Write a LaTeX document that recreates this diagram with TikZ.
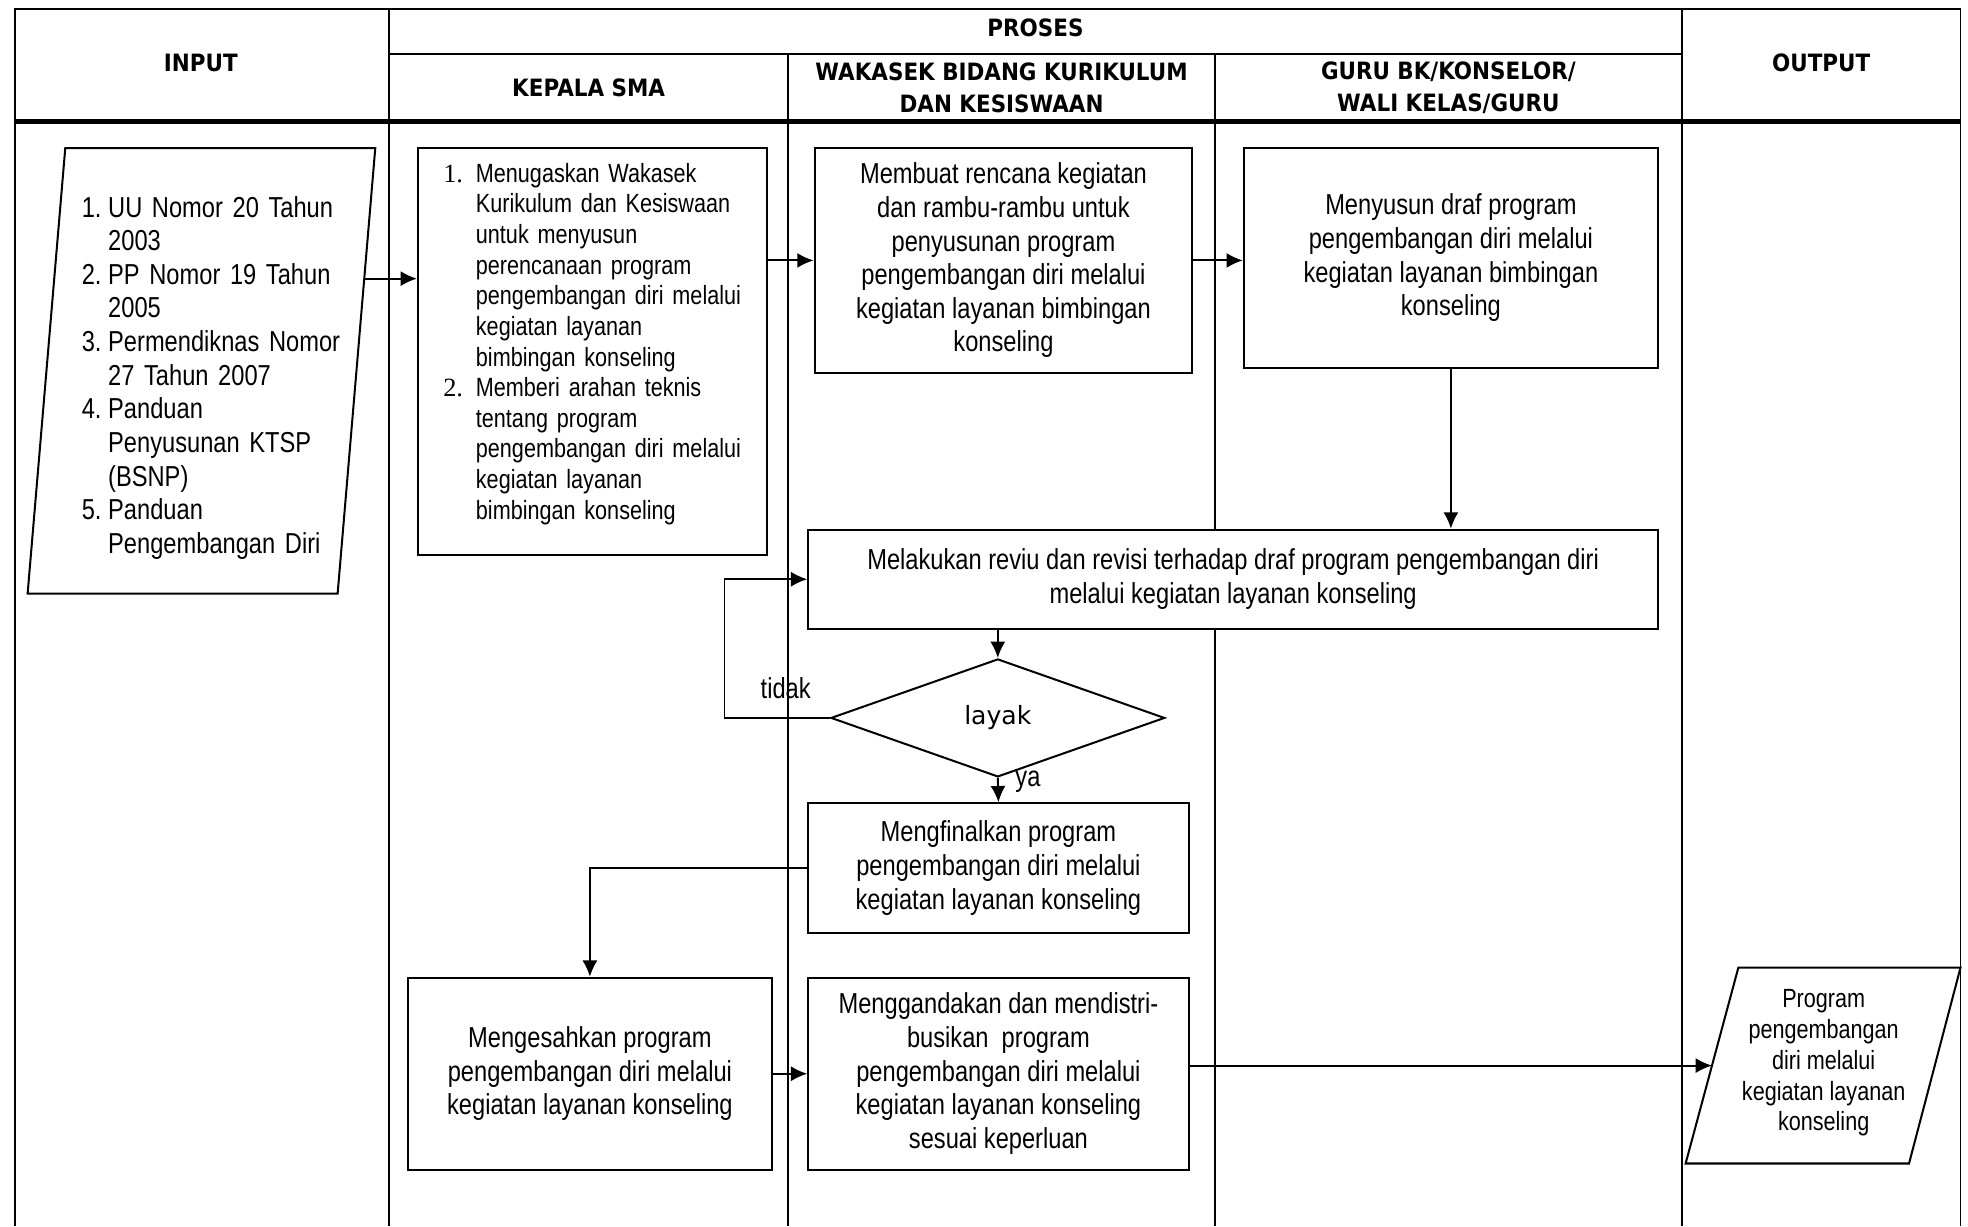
\documentclass[tikz,border=0pt]{standalone}
\usepackage{fontspec}
\setmainfont[FakeStretch=0.82]{Liberation Sans}
\newfontfamily\hdrfont[FakeStretch=0.9]{DejaVu Sans}
\newfontfamily\dvfont{DejaVu Sans}
\newfontfamily\srffont{Liberation Serif}
\usetikzlibrary{shapes.geometric,arrows.meta}
\begin{document}
\begin{tikzpicture}[x=1pt,y=-1pt,
  tbl/.style={line width=1.2pt},
  box/.style={draw,line width=1.6pt,fill=white,align=center,inner sep=0pt,font=\fontsize{23}{26.8}\selectfont},
  arr/.style={line width=1.5pt,-{Latex[length=13pt,width=12pt]}},
  hdr/.style={font=\hdrfont\bfseries\fontsize{19}{26}\selectfont,align=center,inner sep=0pt},
  txt/.style={font=\fontsize{23}{26.8}\selectfont,inner sep=0pt},
  smalltxt/.style={font=\fontsize{21}{24.4}\selectfont,inner sep=0pt}]
\useasboundingbox (0,0) rectangle (1568,977);
% table
\draw[tbl] (12,977) -- (12,7) -- (1562,7) -- (1562,977);
\draw[tbl] (310,7) -- (310,977);
\draw[tbl] (1340,7) -- (1340,977);
\draw[tbl] (310,43) -- (1340,43);
\draw[tbl] (628,43) -- (628,977);
\draw[tbl] (968,43) -- (968,977);
\draw[line width=4pt] (12,97) -- (1562,97);
% headers
\node[hdr] (hproses) at (825,22) {PROSES};
\node[hdr] (hinput) at (160,50) {INPUT};
\node[hdr] (houtput) at (1451,50) {OUTPUT};
\node[hdr] (hkepala) at (469,70) {KEPALA SMA};
\node[hdr] (hwakasek) at (798,70) {WAKASEK BIDANG KURIKULUM\\DAN KESISWAAN};
\node[hdr] (hguru) at (1154,70) {GURU BK/KONSELOR/\\WALI KELAS/GURU};
% input
\draw[line width=1.6pt,fill=white] (52,118) -- (299,118) -- (269,473) -- (22,473) -- cycle;
\node[txt,anchor=west,align=left,text width=212] (inp) at (65,301) {%
\makebox[21pt][l]{1.}UU Nomor 20 Tahun\\
\hspace*{21pt}2003\\
\makebox[21pt][l]{2.}PP Nomor 19 Tahun\\
\hspace*{21pt}2005\\
\makebox[21pt][l]{3.}Permendiknas Nomor\\
\hspace*{21pt}27 Tahun 2007\\
\makebox[21pt][l]{4.}Panduan\\
\hspace*{21pt}Penyusunan KTSP\\
\hspace*{21pt}(BSNP)\\
\makebox[21pt][l]{5.}Panduan\\
\hspace*{21pt}Pengembangan Diri};
\coordinate (inpR) at (290.2,222);
% kepala
\node[box,minimum width=278,minimum height=324] (kep) at (472,280) {};
\node[smalltxt,anchor=west,align=left,text width=240] (keptxt) at (353,274) {%
\makebox[26pt][l]{\srffont 1.}Menugaskan Wakasek\\
\hspace*{26pt}Kurikulum dan Kesiswaan\\
\hspace*{26pt}untuk menyusun\\
\hspace*{26pt}perencanaan program\\
\hspace*{26pt}pengembangan diri melalui\\
\hspace*{26pt}kegiatan layanan\\
\hspace*{26pt}bimbingan konseling\\
\makebox[26pt][l]{\srffont 2.}Memberi arahan teknis\\
\hspace*{26pt}tentang program\\
\hspace*{26pt}pengembangan diri melalui\\
\hspace*{26pt}kegiatan layanan\\
\hspace*{26pt}bimbingan konseling};
% wakasek 1
\node[box,minimum width=301,minimum height=179] (wak) at (799.5,207.5) {Membuat rencana kegiatan\\dan rambu-rambu untuk\\penyusunan program\\pengembangan diri melalui\\kegiatan layanan bimbingan\\konseling};
% guru
\node[box,minimum width=330,minimum height=175] (guru) at (1156,205.5) {Menyusun draf program\\pengembangan diri melalui\\kegiatan layanan bimbingan\\konseling};
% review
\node[box,minimum width=677,minimum height=79] (rev) at (982.5,461.5) {Melakukan reviu dan revisi terhadap draf program pengembangan diri\\melalui kegiatan layanan konseling};
% diamond
\node[draw,diamond,line width=1.6pt,fill=white,minimum width=266,minimum height=94,inner sep=0pt,font=\dvfont\fontsize{20}{24}\selectfont] (dia) at (795,572) {layak};
\node[txt] (tidak) at (626,548) {tidak};
\node[txt] (ya) at (819,623) {ya};
% finalize
\node[box,minimum width=303,minimum height=103] (fin) at (795.5,691.5) {Mengfinalkan program\\pengembangan diri melalui\\kegiatan layanan konseling};
% mengesahkan
\node[box,minimum width=290,minimum height=153] (mgs) at (470,855.5) {Mengesahkan program\\pengembangan diri melalui\\kegiatan layanan konseling};
% menggandakan
\node[box,minimum width=303,minimum height=153] (mgd) at (795.5,855.5) {Menggandakan dan mendistri-\\busikan\ \ program\\pengembangan diri melalui\\kegiatan layanan konseling\\sesuai keperluan};
% output
\draw[line width=1.6pt,fill=white] (1385,771) -- (1562,771) -- (1521,927) -- (1343,927) -- cycle;
\node[smalltxt,align=center,font=\fontsize{21}{24.5}\selectfont] (out) at (1453,847) {Program\\pengembangan\\diri melalui\\kegiatan layanan\\konseling};
\coordinate (outL) at (1364,849);
% connectors
\draw[arr] (inpR) -- (inpR -| kep.west);
\draw[arr] (wak.west -| kep.east) -- (wak.west);
\draw[arr] (wak.east) -- (wak.east -| guru.west);
\draw[arr] (guru.south) -- (guru.south |- rev.north);
\draw[arr] (rev.south -| dia.north) -- (dia.north);
\draw[arr] (dia.west) -- ++(-84,0) |- (rev.west);
\draw[arr] (dia.south) -- (fin.north);
\draw[arr] (fin.west) -| (mgs.north);
\draw[arr] (mgs.east) -- (mgd.west);
\draw[arr] (outL -| mgd.east) -- (outL);
\end{tikzpicture}
\end{document}
